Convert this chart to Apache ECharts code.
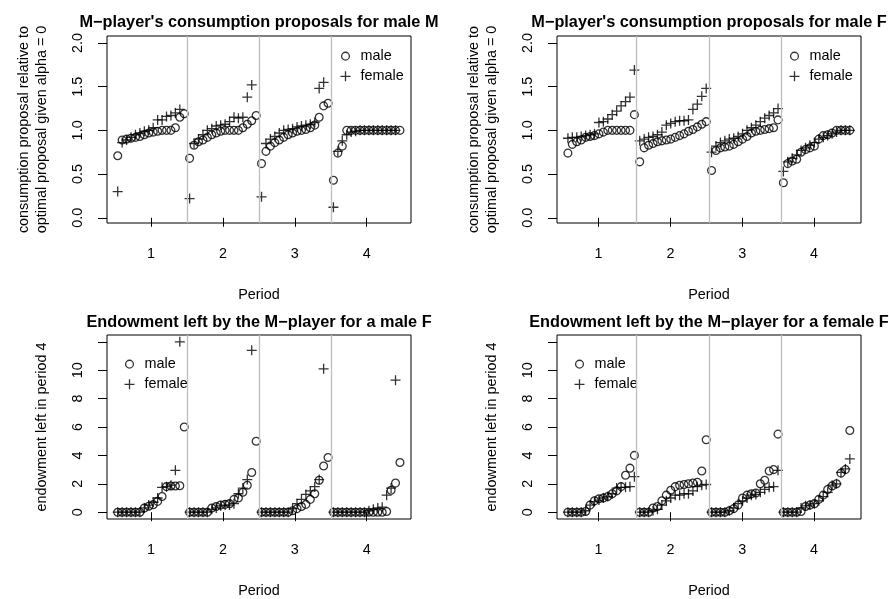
<!DOCTYPE html>
<html><head><meta charset="utf-8">
<script src="https://cdn.jsdelivr.net/npm/echarts@6/dist/echarts.min.js"></script>
<style>html,body{margin:0;padding:0;background:#fff}#c{width:889px;height:599px}</style>
</head><body><div id="c"></div>
<script>
// ---------- data ----------
const periods = [1, 2, 3, 4];
const xTickValues = [1, 2, 3, 4];
const consYTicks = [0, 0.5, 1, 1.5, 2];
const endowYTicks = [0, 2, 4, 6, 8, 10, 12];
const endowYLabels = [0, 2, 4, 6, 8, 10];

// Panel 1: M-player's consumption proposals for male M
const consMaleM_male = [
  [0.71,0.89,0.90,0.91,0.92,0.93,0.95,0.97,0.98,0.99,1.00,1.00,1.00,1.03,1.15,1.19],
  [0.68,0.83,0.87,0.89,0.92,0.95,0.97,0.99,1.00,1.00,1.00,1.00,1.03,1.07,1.11,1.17],
  [0.62,0.76,0.82,0.86,0.89,0.92,0.95,0.97,0.99,1.00,1.01,1.03,1.06,1.15,1.28,1.31],
  [0.43,0.74,0.82,1.00,1.00,1.00,1.00,1.00,1.00,1.00,1.00,1.00,1.00,1.00,1.00,1.00]
];
const consMaleM_female = [
  [0.30,0.86,0.89,0.92,0.95,0.97,0.99,1.00,1.03,1.12,1.12,1.16,1.17,1.20,1.24],
  [0.22,0.85,0.90,0.95,1.00,1.02,1.05,1.06,1.07,1.10,1.15,1.14,1.15,1.38,1.52],
  [0.24,0.85,0.90,0.93,0.97,1.00,1.01,1.02,1.04,1.05,1.06,1.07,1.09,1.48,1.55],
  [0.12,0.76,0.88,0.95,0.98,0.99,1.00,1.00,1.00,1.00,1.00,1.00,1.00,1.00,1.00]
];
// Panel 2: M-player's consumption proposals for male F
const consMaleF_male = [
  [0.74,0.84,0.87,0.89,0.92,0.93,0.94,0.96,0.98,1.00,1.00,1.00,1.00,1.00,1.00,1.18],
  [0.64,0.80,0.83,0.85,0.87,0.88,0.89,0.90,0.92,0.94,0.96,0.99,1.01,1.04,1.07,1.10],
  [0.54,0.77,0.80,0.81,0.82,0.84,0.87,0.90,0.93,0.97,0.99,1.00,1.01,1.02,1.03,1.12],
  [0.40,0.62,0.65,0.67,0.75,0.78,0.80,0.82,0.90,0.94,0.95,0.97,1.00,1.00,1.00,1.00]
];
const consMaleF_female = [
  [0.91,0.92,0.92,0.93,0.94,0.95,0.96,1.09,1.10,1.13,1.18,1.22,1.28,1.33,1.38,1.69],
  [0.88,0.90,0.92,0.93,0.95,0.98,1.06,1.08,1.10,1.11,1.11,1.12,1.24,1.30,1.39,1.48],
  [0.75,0.82,0.86,0.88,0.90,0.91,0.93,0.96,1.00,1.03,1.06,1.10,1.14,1.17,1.20,1.25],
  [0.53,0.64,0.68,0.72,0.77,0.80,0.83,0.86,0.90,0.92,0.94,0.96,0.98,1.00,1.00,1.00]
];
// Panel 3: Endowment left by the M-player for a male F
const endowMaleF_male = [
  [0,0,0,0,0,0,0.30,0.42,0.53,0.76,1.11,1.80,1.84,1.84,1.86,6.0],
  [0,0,0,0,0,0.30,0.40,0.50,0.55,0.60,0.90,1.00,1.40,1.90,2.80,5.0],
  [0,0,0,0,0,0,0,0.10,0.25,0.40,0.55,0.90,1.30,2.25,3.25,3.85],
  [0,0,0,0,0,0,0,0,0,0,0,0,0.05,1.55,2.05,3.5]
];
const endowMaleF_female = [
  [0,0,0,0,0,0,0.30,0.50,0.70,1.00,1.75,1.80,1.90,2.95,12.0],
  [0,0,0,0,0,0.20,0.30,0.45,0.50,0.50,0.60,1.30,1.70,2.30,11.4],
  [0,0,0,0,0,0,0,0.25,0.60,0.90,1.25,1.50,1.80,2.30,10.1],
  [0,0,0,0,0,0,0,0,0.10,0.20,0.30,0.35,1.20,1.70,9.3]
];
// Panel 4: Endowment left by the M-player for a female F
const endowFemaleF_male = [
  [0,0,0,0,0.05,0.50,0.80,0.95,1.00,1.10,1.30,1.50,1.80,2.60,3.10,4.0],
  [0,0,0,0.30,0.40,0.80,1.20,1.55,1.80,1.90,1.95,2.00,2.05,2.10,2.90,5.1],
  [0,0,0,0,0.10,0.25,0.50,1.00,1.20,1.30,1.35,2.00,2.25,2.90,3.00,5.5],
  [0,0,0,0,0.05,0.40,0.50,0.60,0.90,1.20,1.60,1.85,2.00,2.75,3.00,5.75]
];
const endowFemaleF_female = [
  [0,0,0,0,0.10,0.50,0.75,0.85,1.00,1.10,1.30,1.70,1.75,1.75,1.80,2.5],
  [0,0,0,0.10,0.20,0.50,0.80,1.00,1.20,1.20,1.30,1.30,1.50,1.80,1.90,1.95],
  [0,0,0,0,0.10,0.30,0.60,0.80,1.00,1.20,1.25,1.40,1.60,1.75,1.80,2.95],
  [0,0,0,0,0.30,0.45,0.50,0.60,0.80,1.10,1.40,1.90,2.00,2.80,3.05,3.75]
];

// ---------- layout ----------
const FONT = '"Liberation Sans", Arial, Helvetica, sans-serif';
const STEP = 0.0617;
const consName = 'consumption proposal relative to\noptimal proposal given alpha = 0';
const endowName = 'endowment left in period 4';
const panels = [
  {title:"M\u2212player's consumption proposals for male M", male:consMaleM_male, female:consMaleM_female,
   grid:{left:107,top:36,width:304,height:187}, xMin:0.388, xMax:4.616, start:-0.463, vlines:[1.5,2.5,3.5],
   yMin:-0.06, yMax:2.08, yTicks:consYTicks, yLabels:consYTicks, yFmt:v=>v.toFixed(1), yName:consName,
   titleTop:15, legend:{left:333, top:48.5}},
  {title:"M\u2212player's consumption proposals for male F", male:consMaleF_male, female:consMaleF_female,
   grid:{left:557,top:36,width:304,height:187}, xMin:0.421, xMax:4.654, start:-0.427, vlines:[1.535,2.535,3.535],
   yMin:-0.06, yMax:2.08, yTicks:consYTicks, yLabels:consYTicks, yFmt:v=>v.toFixed(1), yName:consName,
   titleTop:15, legend:{left:782, top:48.5}},
  {title:"Endowment left by the M\u2212player for a male F", male:endowMaleF_male, female:endowMaleF_female,
   grid:{left:107,top:335,width:304,height:187}, xMin:0.388, xMax:4.616, start:-0.463, vlines:[1.5,2.5,3.5],
   yMin:-0.48, yMax:12.48, yTicks:endowYTicks, yLabels:endowYLabels, yFmt:v=>String(v), yName:endowName,
   titleTop:315, legend:{left:117, top:356.5}},
  {title:"Endowment left by the M\u2212player for a female F", male:endowFemaleF_male, female:endowFemaleF_female,
   grid:{left:557,top:335,width:304,height:187}, xMin:0.421, xMax:4.654, start:-0.427, vlines:[1.535,2.535,3.535],
   yMin:-0.48, yMax:12.48, yTicks:endowYTicks, yLabels:endowYLabels, yFmt:v=>String(v), yName:endowName,
   titleTop:315, legend:{left:567, top:356.5}}
];

const circleIcon = 'path://M0,0M20,14M6.1,7A3.9,3.9,0,1,1,13.9,7A3.9,3.9,0,1,1,6.1,7Z';
const plusIcon = 'path://M0,0M20,14M5,7L15,7M10,2L10,12';
const plusSymbol = 'path://M0,5L10,5M5,0L5,10';

function points(arr, start) {
  const out = [];
  arr.forEach((vals, i) => vals.forEach((v, k) => out.push([periods[i] + start + k * STEP, v])));
  return out;
}

const option = {animation:false, backgroundColor:'#fff', textStyle:{fontFamily:FONT},
  title:[], grid:[], xAxis:[], yAxis:[], series:[], legend:[]};

panels.forEach((p, i) => {
  option.title.push({text:p.title, left:p.grid.left + p.grid.width/2, top:p.titleTop, textAlign:'center', padding:0,
    textStyle:{fontFamily:FONT, fontSize:16.3, fontWeight:'bold', color:'#000'}});
  option.grid.push(Object.assign({show:true, borderColor:'#000', borderWidth:1, backgroundColor:'transparent'}, p.grid));
  option.xAxis.push({gridIndex:i, type:'value', min:p.xMin, max:p.xMax,
    axisLine:{show:false}, splitLine:{show:false},
    axisTick:{show:true, length:9, customValues:xTickValues, lineStyle:{color:'#000', width:1}},
    axisLabel:{customValues:xTickValues, margin:24, color:'#000', fontSize:14.4, fontFamily:FONT},
    name:'Period', nameLocation:'middle', nameGap:65,
    nameTextStyle:{color:'#000', fontSize:14.4, fontFamily:FONT}});
  option.yAxis.push({gridIndex:i, type:'value', min:p.yMin, max:p.yMax,
    axisLine:{show:false}, splitLine:{show:false},
    axisTick:{show:true, length:9, customValues:p.yTicks, lineStyle:{color:'#000', width:1}},
    axisLabel:{customValues:p.yLabels, formatter:p.yFmt, rotate:90, margin:22, color:'#000', fontSize:14.4, fontFamily:FONT},
    name:p.yName, nameLocation:'middle', nameRotate:90, nameGap:56,
    nameTextStyle:{color:'#000', fontSize:14.4, fontFamily:FONT, lineHeight:18}});
  option.series.push({name:'male', type:'scatter', xAxisIndex:i, yAxisIndex:i, symbol:'circle', symbolSize:7.8,
    itemStyle:{color:'rgba(0,0,0,0)', borderColor:'#000', borderWidth:1.3}, silent:true,
    data:points(p.male, p.start),
    markLine:{silent:true, symbol:'none', label:{show:false}, animation:false,
      lineStyle:{color:'#bebebe', width:1.3, type:'solid'}, data:p.vlines.map(x => ({xAxis:x}))}});
  option.series.push({name:'female', type:'scatter', xAxisIndex:i, yAxisIndex:i, symbol:plusSymbol, symbolSize:10,
    itemStyle:{color:'none', borderColor:'#000', borderWidth:1.3}, silent:true,
    data:points(p.female, p.start)});
  option.legend.push({left:p.legend.left, top:p.legend.top, orient:'vertical', itemWidth:20, itemHeight:14, itemGap:3,
    selectedMode:false, padding:0,
    textStyle:{fontFamily:FONT, fontSize:14.4, color:'#000', lineHeight:14},
    data:[{name:'male', icon:circleIcon, itemStyle:{color:'rgba(0,0,0,0)', borderColor:'#000', borderWidth:1.3}},
          {name:'female', icon:plusIcon, itemStyle:{color:'none', borderColor:'#000', borderWidth:1.3}}]});
});

const chart = echarts.init(document.getElementById('c'), null, {renderer:'canvas'});
chart.setOption(option);
</script></body></html>
